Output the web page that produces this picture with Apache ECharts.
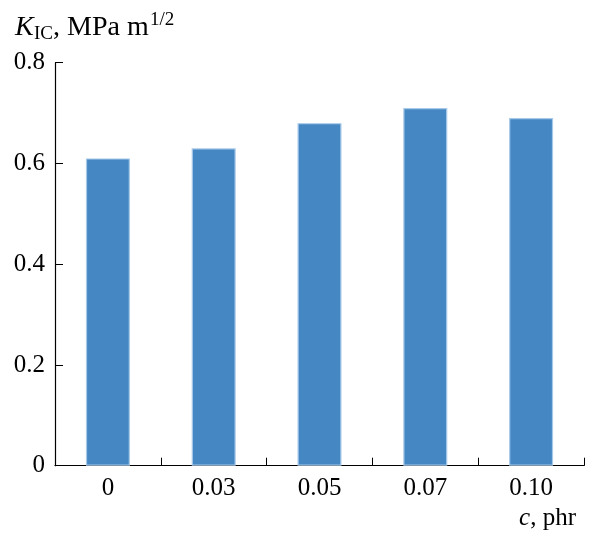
<!DOCTYPE html>
<html>
<head>
<meta charset="utf-8">
<script src="https://cdn.jsdelivr.net/npm/echarts@6/dist/echarts.min.js"></script>
<style>
html,body{margin:0;padding:0;background:#fff;}
#c{width:589px;height:534px;}
</style>
</head>
<body>
<div id="c"></div>
<script>
var categories = ['0', '0.03', '0.05', '0.07', '0.10'];
var kicValues = [0.61, 0.63, 0.68, 0.71, 0.69];
var yTicks = [0, 0.2, 0.4, 0.6, 0.8];

var FONT = 'Liberation Serif';
var chart = echarts.init(document.getElementById('c'), null, {renderer: 'canvas'});
chart.setOption({
  animation: false,
  backgroundColor: '#fff',
  grid: {left: 55, right: 5, top: 62.7, bottom: 68.3, containLabel: false},
  xAxis: {
    type: 'category',
    data: categories,
    boundaryGap: true,
    axisLine: {show: true, lineStyle: {color: '#000', width: 1.2}},
    axisTick: {show: true, inside: true, length: 8, alignWithLabel: false, lineStyle: {color: '#000', width: 1}},
    axisLabel: {color: '#000', fontFamily: FONT, fontSize: 25, margin: 10}
  },
  yAxis: {
    type: 'value',
    min: yTicks[0],
    max: yTicks[yTicks.length - 1],
    interval: 0.2,
    splitLine: {show: false},
    axisLine: {show: true, lineStyle: {color: '#000', width: 1.2}},
    axisTick: {show: true, inside: true, length: 8, lineStyle: {color: '#000', width: 1}},
    axisLabel: {
      color: '#000', fontFamily: FONT, fontSize: 25, margin: 10,
      formatter: function (v) { return v === 0 ? '0' : v.toFixed(1); }
    }
  },
  series: [{
    type: 'bar',
    data: kicValues,
    barWidth: 44,
    itemStyle: {color: '#4587c3', borderColor: '#a6c9e9', borderWidth: 1.2}
  }],
  graphic: [
    {type: 'text', left: 15, top: 14, style: {text: 'K', font: 'italic 28px ' + FONT, fill: '#000'}},
    {type: 'text', left: 34, top: 25, style: {text: 'IC', font: '19px ' + FONT, fill: '#000'}},
    {type: 'text', left: 53, top: 14, style: {text: ', MPa m', font: '28px ' + FONT, fill: '#000'}},
    {type: 'text', left: 150, top: 11, style: {text: '1/2', font: '19px ' + FONT, fill: '#000'}},
    {type: 'text', right: 13, top: 506, style: {text: '{i|c}, phr', font: '25px ' + FONT, fill: '#000',
      rich: {i: {fontStyle: 'italic', fontFamily: FONT, fontSize: 25}}}}
  ]
});
</script>
</body>
</html>
